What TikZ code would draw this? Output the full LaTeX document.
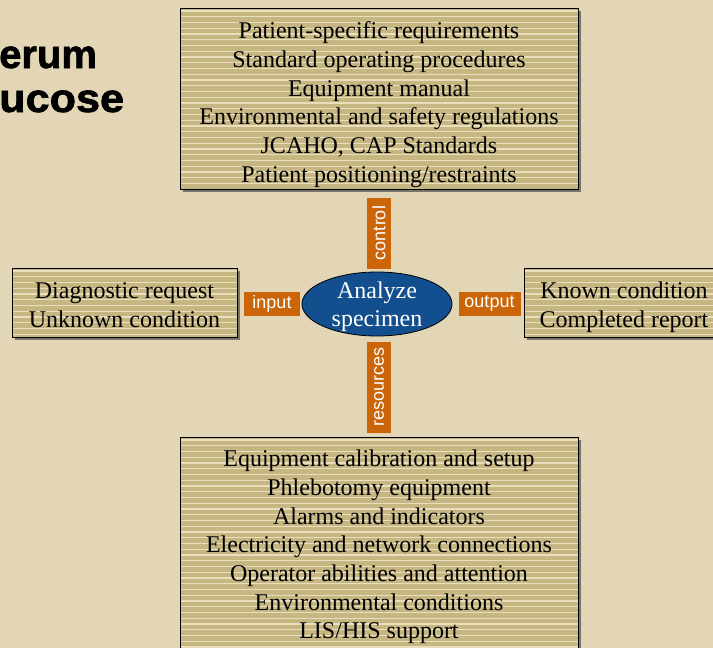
\documentclass[tikz,border=0pt]{standalone}
\usepackage{fontspec}
\setmainfont{Liberation Serif}
\setsansfont{Liberation Sans}
\newfontfamily\titlefont[FakeBold=1.6]{Liberation Sans Bold}
\usetikzlibrary{shapes.geometric,shadows}
\definecolor{bgc}{HTML}{E3D6B6}
\definecolor{boxfill}{HTML}{C5B682}
\definecolor{stripec}{HTML}{E9DFBC}
\definecolor{orangec}{HTML}{CC6408}
\definecolor{bluec}{HTML}{134F8E}
\definecolor{shadowc}{HTML}{77756A}
\tikzset{
  stripebox/.style={draw=black, line width=1pt, fill=boxfill, inner sep=0pt,
    drop shadow={shadow xshift=3pt, shadow yshift=-3pt, fill=shadowc, opacity=1},
    path picture={\foreach \k in {0,...,40}{
      \draw[stripec, line width=1.3pt]
        ([yshift=-\k*5.75pt-3pt]path picture bounding box.north west) --
        ([yshift=-\k*5.75pt-3pt]path picture bounding box.north east);}}},
  boxtext/.style={inner sep=0pt, align=center, font=\fontsize{24}{28.7}\selectfont},
  tag/.style={fill=orangec, text=white, inner sep=0pt, font=\sffamily\fontsize{18}{20}\selectfont},
  titletext/.style={font=\titlefont\fontsize{40}{44}\selectfont, inner sep=0pt, anchor=base west}
}
\begin{document}
\begin{tikzpicture}[x=1pt,y=-1pt]
\useasboundingbox (0,0) rectangle (713,648);
\clip (0,0) rectangle (713,648);
\fill[bgc] (0,0) rectangle (713,648);
\node[titletext] (t1) at (-1,68) {erum};
\node[titletext, xscale=1.08] (t2) at (-1,112) {ucose};
\node[stripebox, minimum width=398pt, minimum height=181pt] (ctrl) at (379,98.5) {};
\node[boxtext] (ctrlt) at ([yshift=-6pt]ctrl.center)
  {Patient-specific requirements\\Standard operating procedures\\Equipment manual\\Environmental and safety regulations\\JCAHO, CAP Standards\\Patient positioning/restraints};
\node[stripebox, minimum width=225pt, minimum height=69pt] (in) at (124.5,302.5) {};
\node[boxtext] (int) at ([yshift=-2.5pt]in.center) {Diagnostic request\\Unknown condition};
\node[stripebox, minimum width=200pt, minimum height=69pt] (out) at (624,302.5) {};
\node[boxtext] (outt) at ([yshift=-4.5pt]out.center) {Known condition\\Completed report};
\node[stripebox, minimum width=398pt, minimum height=220pt] (res) at (379,547) {};
\node[boxtext] (rest) at ([yshift=0pt]res.center)
  {Equipment calibration and setup\\Phlebotomy equipment\\Alarms and indicators\\Electricity and network connections\\Operator abilities and attention\\Environmental conditions\\LIS/HIS support};
\node[ellipse, draw=black, line width=0.8pt, fill=bluec, minimum width=150pt, minimum height=64pt, inner sep=0pt] (proc) at (377,304) {};
\node[boxtext, text=white, font=\fontsize{24}{28}\selectfont] (proct) at ([yshift=-3pt]proc.center) {Analyze\\specimen};
\node[tag, rotate=90, minimum width=71pt, minimum height=24pt] (lc) at (379,233) {control};
\node[tag, rotate=90, minimum width=91pt, minimum height=24pt] (lr) at (379,387) {resources};
\node[tag, minimum width=56pt, minimum height=24pt] (li) at (272,304) {input};
\node[tag, minimum width=62pt, minimum height=24pt] (lo) at (489.5,304) {output};
\end{tikzpicture}
\end{document}
